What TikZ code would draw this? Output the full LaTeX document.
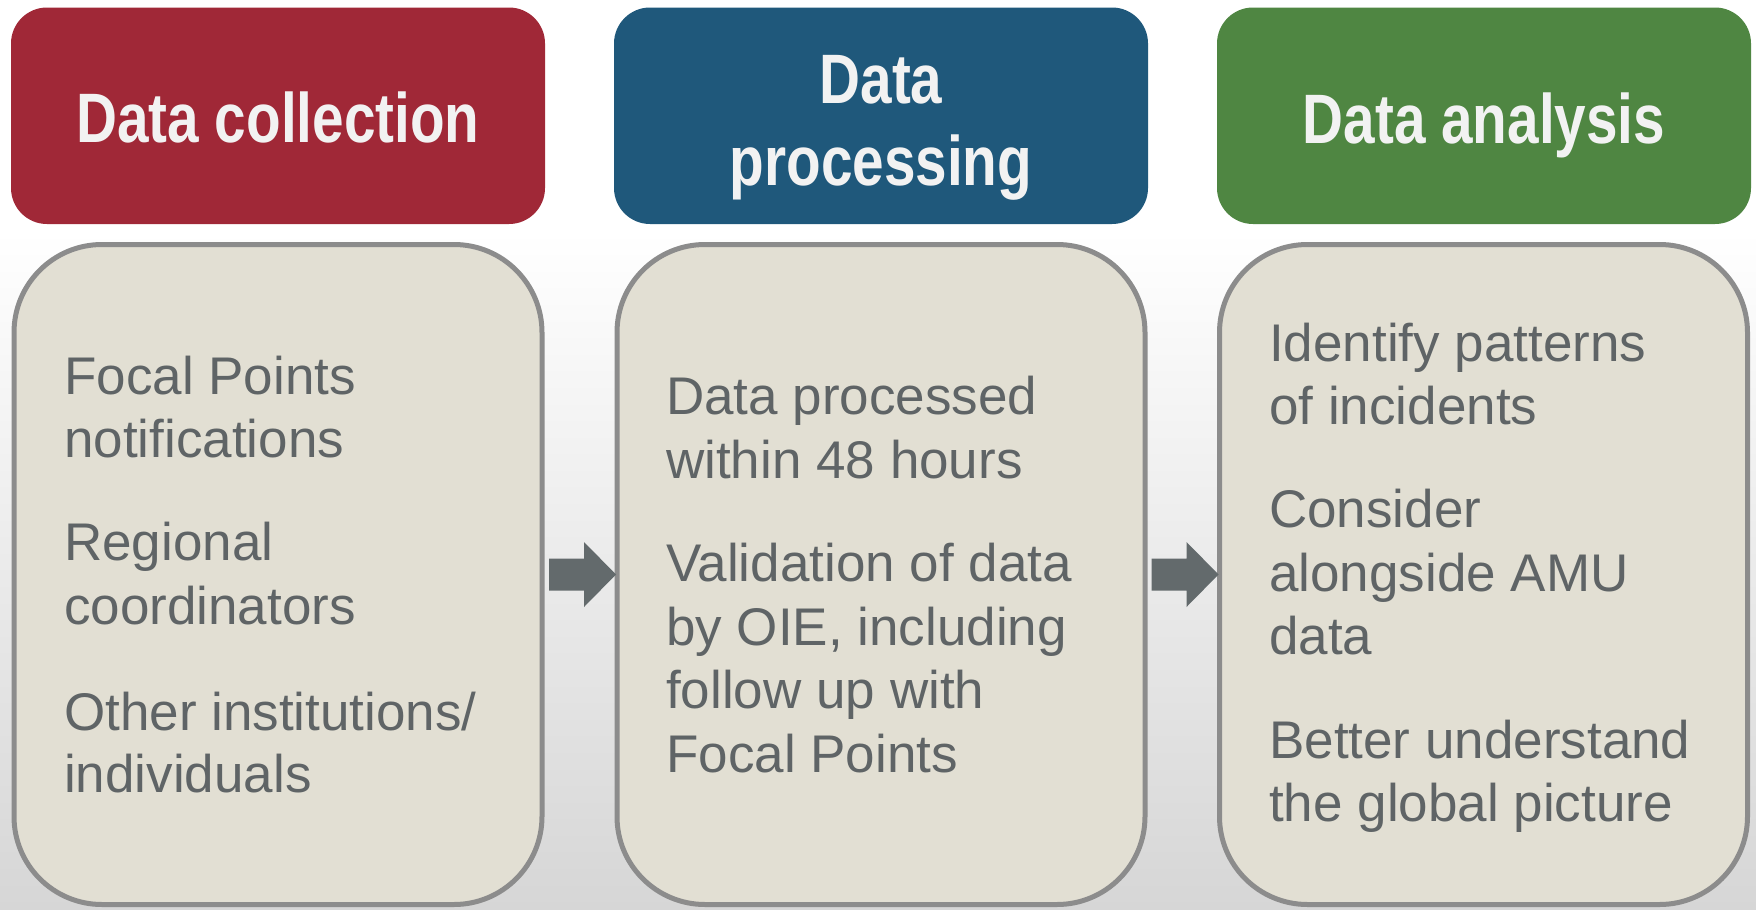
\documentclass[tikz,border=0pt]{standalone}
\usepackage{fontspec}
\setmainfont{Liberation Sans}
\newfontfamily\headfont[FakeStretch=0.81]{Liberation Sans}
\definecolor{hdrred}{HTML}{A02837}
\definecolor{hdrblue}{HTML}{1F587B}
\definecolor{hdrgreen}{HTML}{4F8642}
\definecolor{hdrtext}{HTML}{F2F2F2}
\definecolor{bodyfill}{HTML}{E2DFD3}
\definecolor{bordergray}{HTML}{8C8C8C}
\definecolor{bodytext}{HTML}{5F6466}
\definecolor{arrowgray}{HTML}{636A6C}
\definecolor{bggray}{HTML}{D6D6D6}
\tikzset{
  headbox/.style={rectangle, rounded corners=36pt, minimum width=534pt, minimum height=216.5pt, inner sep=0pt},
  bodybox/.style={rectangle, rounded corners=88pt, draw=bordergray, line width=5pt, fill=bodyfill, minimum width=528pt, minimum height=660pt, inner sep=0pt},
  htext/.style={anchor=base, inner sep=0pt, text=hdrtext, font=\headfont\bfseries\fontsize{70}{82}\selectfont},
  btext/.style={anchor=base west, inner sep=0pt, text=bodytext, font=\fontsize{53}{64}\selectfont},
  blockarrow/.style={fill=arrowgray, draw=none}
}
\begin{document}
\begin{tikzpicture}[x=1pt,y=-1pt]
\useasboundingbox (0,0) rectangle (1756,910);
\fill[white] (0,0) rectangle (1756,231);
\shade[top color=white, bottom color=bggray] (0,230) rectangle (1756,910);

% headers
\node[headbox, fill=hdrred] (h1) at (278,115.75) {};
\node[headbox, fill=hdrblue] (h2) at (881,115.75) {};
\node[headbox, fill=hdrgreen] (h3) at (1484,115.75) {};
\node[htext] (h1t) at (278,142) {Data collection};
\node[htext] (h2ta) at (881,103) {Data};
\node[htext] (h2tb) at (881,185) {processing};
\node[htext] (h3t) at (1484,143) {Data analysis};

% bodies
\node[bodybox] (b1) at (278,574.5) {};
\node[bodybox] (b2) at (881,574.5) {};
\node[bodybox] (b3) at (1483.5,574.5) {};

% block arrows (tip on the west border of the next box)
\fill[blockarrow] ([xshift=1.5pt]b2.west) -- ++(-32,-32.5) -- ++(0,16.5) -- ++(-35,0)
  -- ++(0,32) -- ++(35,0) -- ++(0,16.5) -- cycle;
\fill[blockarrow] ([xshift=1.5pt]b3.west) -- ++(-32,-32.5) -- ++(0,16.5) -- ++(-35,0)
  -- ++(0,32) -- ++(35,0) -- ++(0,16.5) -- cycle;

% body texts, box 1
\node[btext] (t11) at (64,394) {Focal Points};
\node[btext] (t12) at (64,457) {notifications};
\node[btext] (t13) at (64,560) {Regional};
\node[btext] (t14) at (64,624) {coordinators};
\node[btext] (t15) at (64,730) {Other institutions/};
\node[btext] (t16) at (64,792) {individuals};

% box 2
\node[btext] (t21) at (666,414) {Data processed};
\node[btext] (t22) at (666,478) {within 48 hours};
\node[btext] (t23) at (666,581) {Validation of data};
\node[btext] (t24) at (666,645) {by OIE, including};
\node[btext] (t25) at (666,708) {follow up with};
\node[btext] (t26) at (666,772) {Focal Points};

% box 3
\node[btext] (t31) at (1269,361) {Identify patterns};
\node[btext] (t32) at (1269,424) {of incidents};
\node[btext] (t33) at (1269,527) {Consider};
\node[btext] (t34) at (1269,591) {alongside AMU};
\node[btext] (t35) at (1269,654) {data};
\node[btext] (t36) at (1269,758) {Better understand};
\node[btext] (t37) at (1269,821) {the global picture};
\end{tikzpicture}
\end{document}
